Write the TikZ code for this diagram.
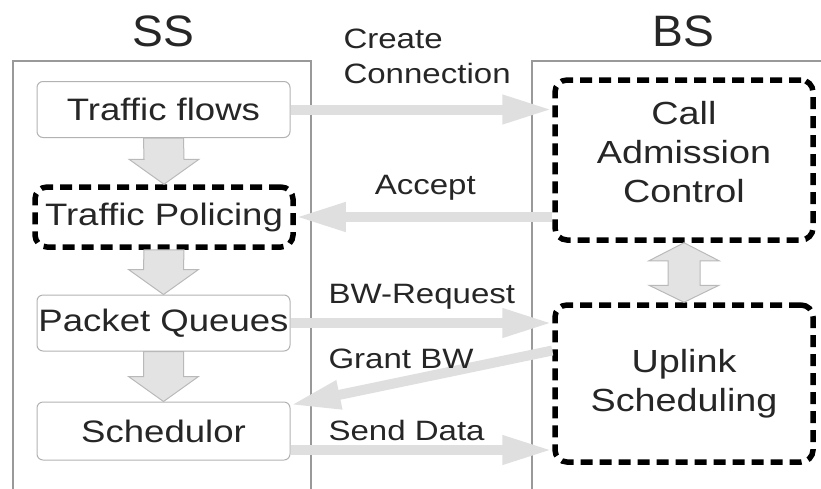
\documentclass[tikz,border=0pt]{standalone}
\usepackage{fontspec}
\setmainfont{Liberation Sans}[FakeStretch=1.18]
\newfontfamily\headfont{Liberation Sans}[FakeStretch=1.05]
\usepackage{tikz}
\usetikzlibrary{arrows.meta,calc}

% fat grey arrow from the bottom of one box to the top of the next
\newcommand\flowarrow[2]{%
  \draw[block arrow] ($(#1.south)+(-20,0)$) -- ($(#2.north)+(-20,-25)$)
    -- ($(#2.north)+(-35,-25)$) -- (#2.north) -- ($(#2.north)+(35,-25)$)
    -- ($(#2.north)+(20,-25)$) -- ($(#1.south)+(20,0)$) -- cycle;}

\begin{document}
\begin{tikzpicture}[x=1pt,y=-1pt,
                      every node/.append style={text=black!85},
                      box node/.style={draw=gray!60,line width=1pt,rounded corners=6pt,minimum width=253pt,minimum height=56pt,inner sep=0pt,font=\fontsize{31}{36}\selectfont},
                      dash node/.style={draw=black,line width=5.5pt,dash pattern=on 12pt off 7pt,rounded corners=12pt,minimum width=258pt,inner sep=0pt,align=center,font=\fontsize{32}{39}\selectfont},
                      head node/.style={font=\headfont\fontsize{44}{48}\selectfont},
                      msg/.style={line width=10pt,draw=gray!25,-{Triangle[length=50pt,width=27pt]}},
                      msg label/.style={font=\fontsize{28}{35}\selectfont,align=left,inner sep=0pt,anchor=base west},
                      block arrow/.style={draw=gray!55,fill=gray!22,line width=1pt}]

    \useasboundingbox (0,0) rectangle (821,488);

    % station frames
    \draw[gray!80,line width=1.5pt] (13,520) |- (311,61) -- (311,520);
    \draw[gray!80,line width=1.5pt] (532,520) |- (830,61);

    \node[head node] (ss) at (163,31) {SS};
    \node[head node] (bs) at (683,31) {BS};

    \node[box node] (flows) at (163.5,109.5) {Traffic flows};
    \node[dash node,minimum height=60pt,font=\fontsize{31}{36}\selectfont] (policing) at (164,217) {Traffic Policing};
    \node[box node] (queues) at (163.5,323) {Packet Queues};
    \node[box node,minimum height=58pt] (sched) at (163.5,431) {Schedulor};

    \node[dash node,minimum height=160pt] (cac) at (684,160) {Call\\Admission\\Control\\[-22pt]\mbox{}};
    \node[dash node,minimum height=157pt] (uplink) at (684,383.5) {Uplink\\Scheduling};

    \flowarrow{flows}{policing}
    \flowarrow{policing}{queues}
    \flowarrow{queues}{sched}

    \draw[block arrow] (cac.south) -- ++(-35,18) -- ++(19,0) -- ($(uplink.north)+(-16,-17)$)
      -- ++(-19,0) -- (uplink.north) -- ++(35,-17) -- ++(-19,0)
      -- ($(cac.south)+(16,18)$) -- ++(19,0) -- cycle;

    \coordinate (grant) at ([yshift=33pt]uplink.west);
    \coordinate (granted) at ([yshift=26pt]sched.east);
    \coordinate (send) at ([yshift=-19pt]sched.east);

    \path
      (flows.east) edge[msg] node[msg label,pos=0,xshift=48pt,yshift=26pt] {Create\\Connection} (flows.east -| cac.west)
      (policing.east -| cac.west) edge[msg] node[msg label,pos=1,xshift=74pt,yshift=23pt] {Accept} (policing.east)
      (queues.east) edge[msg] node[msg label,pos=0,xshift=33pt,yshift=20pt] {BW-Request} (queues.east -| uplink.west)
      (grant) edge[msg] node[msg label,pos=1,xshift=33pt,yshift=37pt] {Grant BW} (granted)
      (send) edge[msg] node[msg label,pos=0,xshift=33pt,yshift=10pt] {Send Data} (send -| uplink.west)
    ;

  \end{tikzpicture}
\end{document}
